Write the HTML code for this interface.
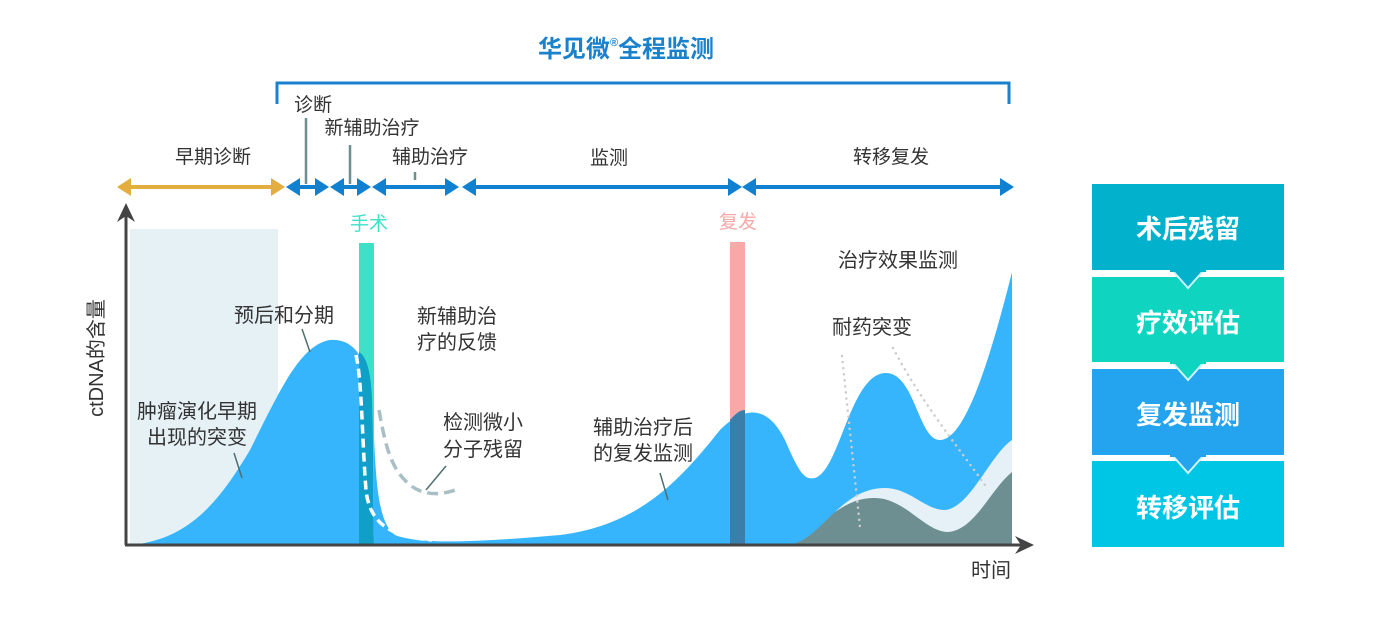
<!DOCTYPE html>
<html><head><meta charset="utf-8"><style>
html,body{margin:0;padding:0;background:#fff;width:1374px;height:618px;overflow:hidden}
text{font-family:"Liberation Sans","Noto Sans CJK SC",sans-serif}
</style></head><body>
<svg width="1374" height="618" viewBox="0 0 1374 618" xmlns="http://www.w3.org/2000/svg">
<text x="626" y="57" text-anchor="middle" font-size="24" font-weight="bold" fill="#1a82cc">华见微<tspan font-size="11" dy="-11">®</tspan><tspan dy="11">全程监测</tspan></text>
<path d="M277 104 V83 H1009 V104" fill="none" stroke="#1a82cc" stroke-width="3"/>
<g font-size="19" fill="#333">
<text x="213" y="163" text-anchor="middle">早期诊断</text>
<text x="313" y="111" text-anchor="middle">诊断</text>
<text x="372" y="134" text-anchor="middle">新辅助治疗</text>
<text x="430" y="163" text-anchor="middle">辅助治疗</text>
<text x="609" y="164" text-anchor="middle">监测</text>
<text x="891" y="163" text-anchor="middle">转移复发</text>
</g>
<g stroke="#6d8f91" stroke-width="2.5">
<line x1="306" y1="118" x2="306" y2="184"/>
<line x1="350" y1="145" x2="350" y2="184"/>
<line x1="415" y1="172" x2="415" y2="180"/>
</g>
<g fill="#e3ad40">
<rect x="128" y="185" width="146" height="4"/>
<polygon points="117,187 131,178 131,196"/>
<polygon points="285,187 271,178 271,196"/>
</g>
<g fill="#1080d0">
<rect x="296" y="185" width="22" height="4"/>
<polygon points="286,187 300,178 300,196"/><polygon points="329,187 315,178 315,196"/>
<rect x="340" y="185" width="20" height="4"/>
<polygon points="330,187 344,178 344,196"/><polygon points="371,187 357,178 357,196"/>
<rect x="382" y="185" width="66" height="4"/>
<polygon points="372,187 386,178 386,196"/><polygon points="459,187 445,178 445,196"/>
<rect x="472" y="185" width="260" height="4"/>
<polygon points="462,187 476,178 476,196"/><polygon points="742,187 728,178 728,196"/>
<rect x="752" y="185" width="252" height="4"/>
<polygon points="742,187 756,178 756,196"/><polygon points="1014,187 1000,178 1000,196"/>
</g>
<rect x="130" y="229" width="148" height="316" fill="#e6f1f6"/>
<path d="M130 545 C190 540 220 500 250 450 C280 390 300 345 330 340 C355 338 368 360 372 400 C376 460 374 520 395 535 C420 545 480 542 560 535 C640 525 680 480 720 430 C740 410 765 400 785 440 C800 475 805 480 815 478 C840 470 850 375 885 373 C915 372 918 440 940 440 C965 440 990 360 1012 272 L1012 545 Z" fill="#36b5fc"/>
<path d="M835 512 C850 498 865 488 885 488 C910 488 925 510 945 510 C970 508 990 455 1012 440 L1012 545 L835 545 Z" fill="#e5f1f6"/>
<path d="M790 545 C810 540 820 525 835 512 C850 502 860 498 875 498 C905 498 925 532 948 532 C975 530 990 490 1012 472 L1012 545 Z" fill="#6d8f91"/>
<rect x="359" y="243" width="15" height="302" fill="#3ee0c8"/>
<path d="M359 352 C366 356 371 370 372 400 C374 460 373 520 374 545 L359 545 Z" fill="#0f9fc9"/>
<rect x="730" y="242" width="15" height="303" fill="#f9a8a8"/>
<path d="M730 420 C737 412 741 410 745 410 L745 545 L730 545 Z" fill="#3a7fac"/>
<path d="M356 355 C362 380 362 440 366 490 C370 530 400 537 432 540" fill="none" stroke="#fff" stroke-width="3.5" stroke-dasharray="9,5"/>
<path d="M379 410 C386 450 392 470 410 485 C425 497 445 495 460 488" fill="none" stroke="#a8bfc6" stroke-width="3.5" stroke-dasharray="11,6"/>
<path d="M842 356 L860 527" stroke="#ccc" stroke-width="2.5" stroke-dasharray="0.1,6" stroke-linecap="round" fill="none"/>
<path d="M893 348 C920 400 960 450 985 485" stroke="#ccc" stroke-width="2.5" stroke-dasharray="0.1,6" stroke-linecap="round" fill="none"/>
<g stroke="#4f6f70" stroke-width="1.5">
<line x1="302" y1="329" x2="310" y2="352"/>
<line x1="234" y1="453" x2="242" y2="478"/>
<line x1="446" y1="466" x2="426" y2="490"/>
<line x1="660" y1="473" x2="668" y2="500"/>
</g>
<line x1="126" y1="545" x2="126" y2="212" stroke="#444" stroke-width="3"/>
<polygon points="126,203 117,222 126,216 135,222" fill="#444"/>
<line x1="125" y1="545" x2="1025" y2="545" stroke="#444" stroke-width="3"/>
<polygon points="1034,545 1015,536 1021,545 1015,554" fill="#444"/>
<text x="369" y="230" text-anchor="middle" font-size="19" fill="#3ee0c8">手术</text>
<text x="738" y="228" text-anchor="middle" font-size="19" fill="#f9a8a8">复发</text>
<g font-size="20" fill="#333">
<text x="284" y="322" text-anchor="middle">预后和分期</text>
<text x="457" y="323" text-anchor="middle">新辅助治</text>
<text x="457" y="349" text-anchor="middle">疗的反馈</text>
<text x="197" y="418" text-anchor="middle">肿瘤演化早期</text>
<text x="197" y="444" text-anchor="middle">出现的突变</text>
<text x="483" y="429" text-anchor="middle">检测微小</text>
<text x="483" y="456" text-anchor="middle">分子残留</text>
<text x="643" y="434" text-anchor="middle">辅助治疗后</text>
<text x="643" y="460" text-anchor="middle">的复发监测</text>
<text x="898" y="267" text-anchor="middle">治疗效果监测</text>
<text x="872" y="334" text-anchor="middle">耐药突变</text>
<text x="991" y="577" text-anchor="middle">时间</text>
<text transform="translate(103,358) rotate(-90)" text-anchor="middle">ctDNA的含量</text>
</g>
<rect x="1092" y="184" width="192" height="86" fill="#02b2cd"/>
<rect x="1092" y="277" width="192" height="85" fill="#0fd5c0"/>
<rect x="1092" y="369" width="192" height="86" fill="#24a4ef"/>
<rect x="1092" y="461" width="192" height="86" fill="#00c6e6"/>
<polygon points="1172,270 1204,270 1188,288" fill="#02b2cd" stroke="#cdf6fb" stroke-width="2"/>
<polygon points="1172,362 1204,362 1188,380" fill="#0fd5c0" stroke="#cdf6fb" stroke-width="2"/>
<polygon points="1172,455 1204,455 1188,473" fill="#24a4ef" stroke="#cdf6fb" stroke-width="2"/>
<rect x="1170" y="269" width="36" height="3" fill="#02b2cd"/>
<rect x="1170" y="361" width="36" height="3" fill="#0fd5c0"/>
<rect x="1170" y="454" width="36" height="3" fill="#24a4ef"/>
<g font-size="26" font-weight="bold" fill="#fff" text-anchor="middle">
<text x="1188" y="238">术后残留</text>
<text x="1188" y="332">疗效评估</text>
<text x="1188" y="424">复发监测</text>
<text x="1188" y="517">转移评估</text>
</g>
</svg>
</body></html>
